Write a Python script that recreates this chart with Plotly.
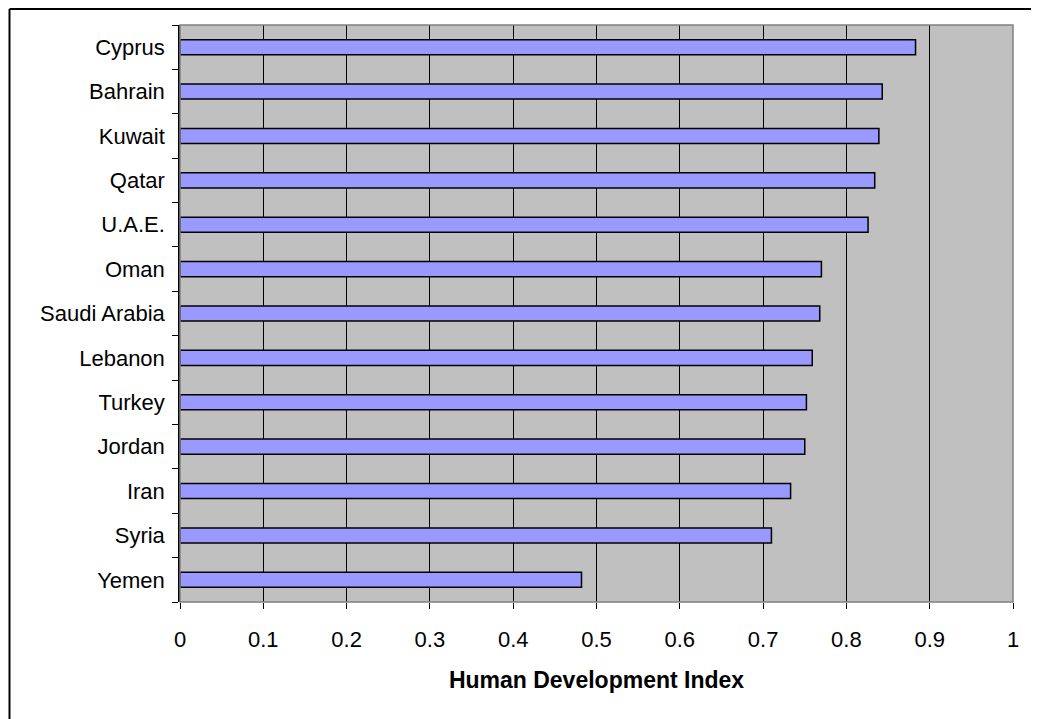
import plotly.graph_objects as go

countries = ['Cyprus', 'Bahrain', 'Kuwait', 'Qatar', 'U.A.E.', 'Oman', 'Saudi Arabia',
             'Lebanon', 'Turkey', 'Jordan', 'Iran', 'Syria', 'Yemen']
hdi = [0.883, 0.843, 0.839, 0.834, 0.826, 0.770, 0.768,
       0.759, 0.752, 0.750, 0.733, 0.710, 0.482]
x_ticks = [0, 0.1, 0.2, 0.3, 0.4, 0.5, 0.6, 0.7, 0.8, 0.9, 1]
x_tick_text = ['0', '0.1', '0.2', '0.3', '0.4', '0.5', '0.6', '0.7', '0.8', '0.9', '1']

# 页面有 8px 的 body 边距，所以边距都往回减一点
W, H = 1039, 719
L, R, T, B = 172, 34, 17, 125
pw, ph = W - L - R, H - T - B

fig = go.Figure(go.Bar(
    x=hdi, y=countries, orientation='h', width=0.34,
    marker=dict(color='#9999FF', line=dict(color='black', width=1.5)),
))

# 外框（只看得见上边和左边）
px0 = (1.5 - L) / pw
py1 = (H - B - 1) / ph
fig.add_shape(type='line', xref='paper', yref='paper', x0=px0, x1=1.2, y0=py1, y1=py1,
              line=dict(color='black', width=2))
fig.add_shape(type='line', xref='paper', yref='paper', x0=px0, x1=px0, y0=py1, y1=-0.3,
              line=dict(color='black', width=2))
# 绘图区边框
fig.add_shape(type='rect', xref='paper', yref='paper', x0=0, x1=1, y0=0, y1=1,
              line=dict(color='#808080', width=1.5), layer='above')

fig.update_layout(
    width=W, height=H,
    margin=dict(l=L, r=R, t=T, b=B),
    paper_bgcolor='white', plot_bgcolor='#C0C0C0',
    font=dict(family='Liberation Sans, Arial, sans-serif', size=22, color='black'),
    showlegend=False,
    xaxis=dict(range=[0, 1], tickvals=x_ticks, ticktext=x_tick_text,
               showgrid=True, gridcolor='black', gridwidth=1, zeroline=False,
               ticks='outside', ticklen=6, tickcolor='black', ticklabelstandoff=12,
               showline=False,
               title=dict(text='<b>Human Development Index</b>', font=dict(size=23),
                          standoff=20)),
    yaxis=dict(categoryorder='array', categoryarray=countries[::-1],
               ticks='outside', ticklen=6, tickcolor='black', tickson='boundaries',
               showline=True, linecolor='black', linewidth=1.5, showgrid=False,
               ticklabelstandoff=9),
)

fig.write_html("out.html")
